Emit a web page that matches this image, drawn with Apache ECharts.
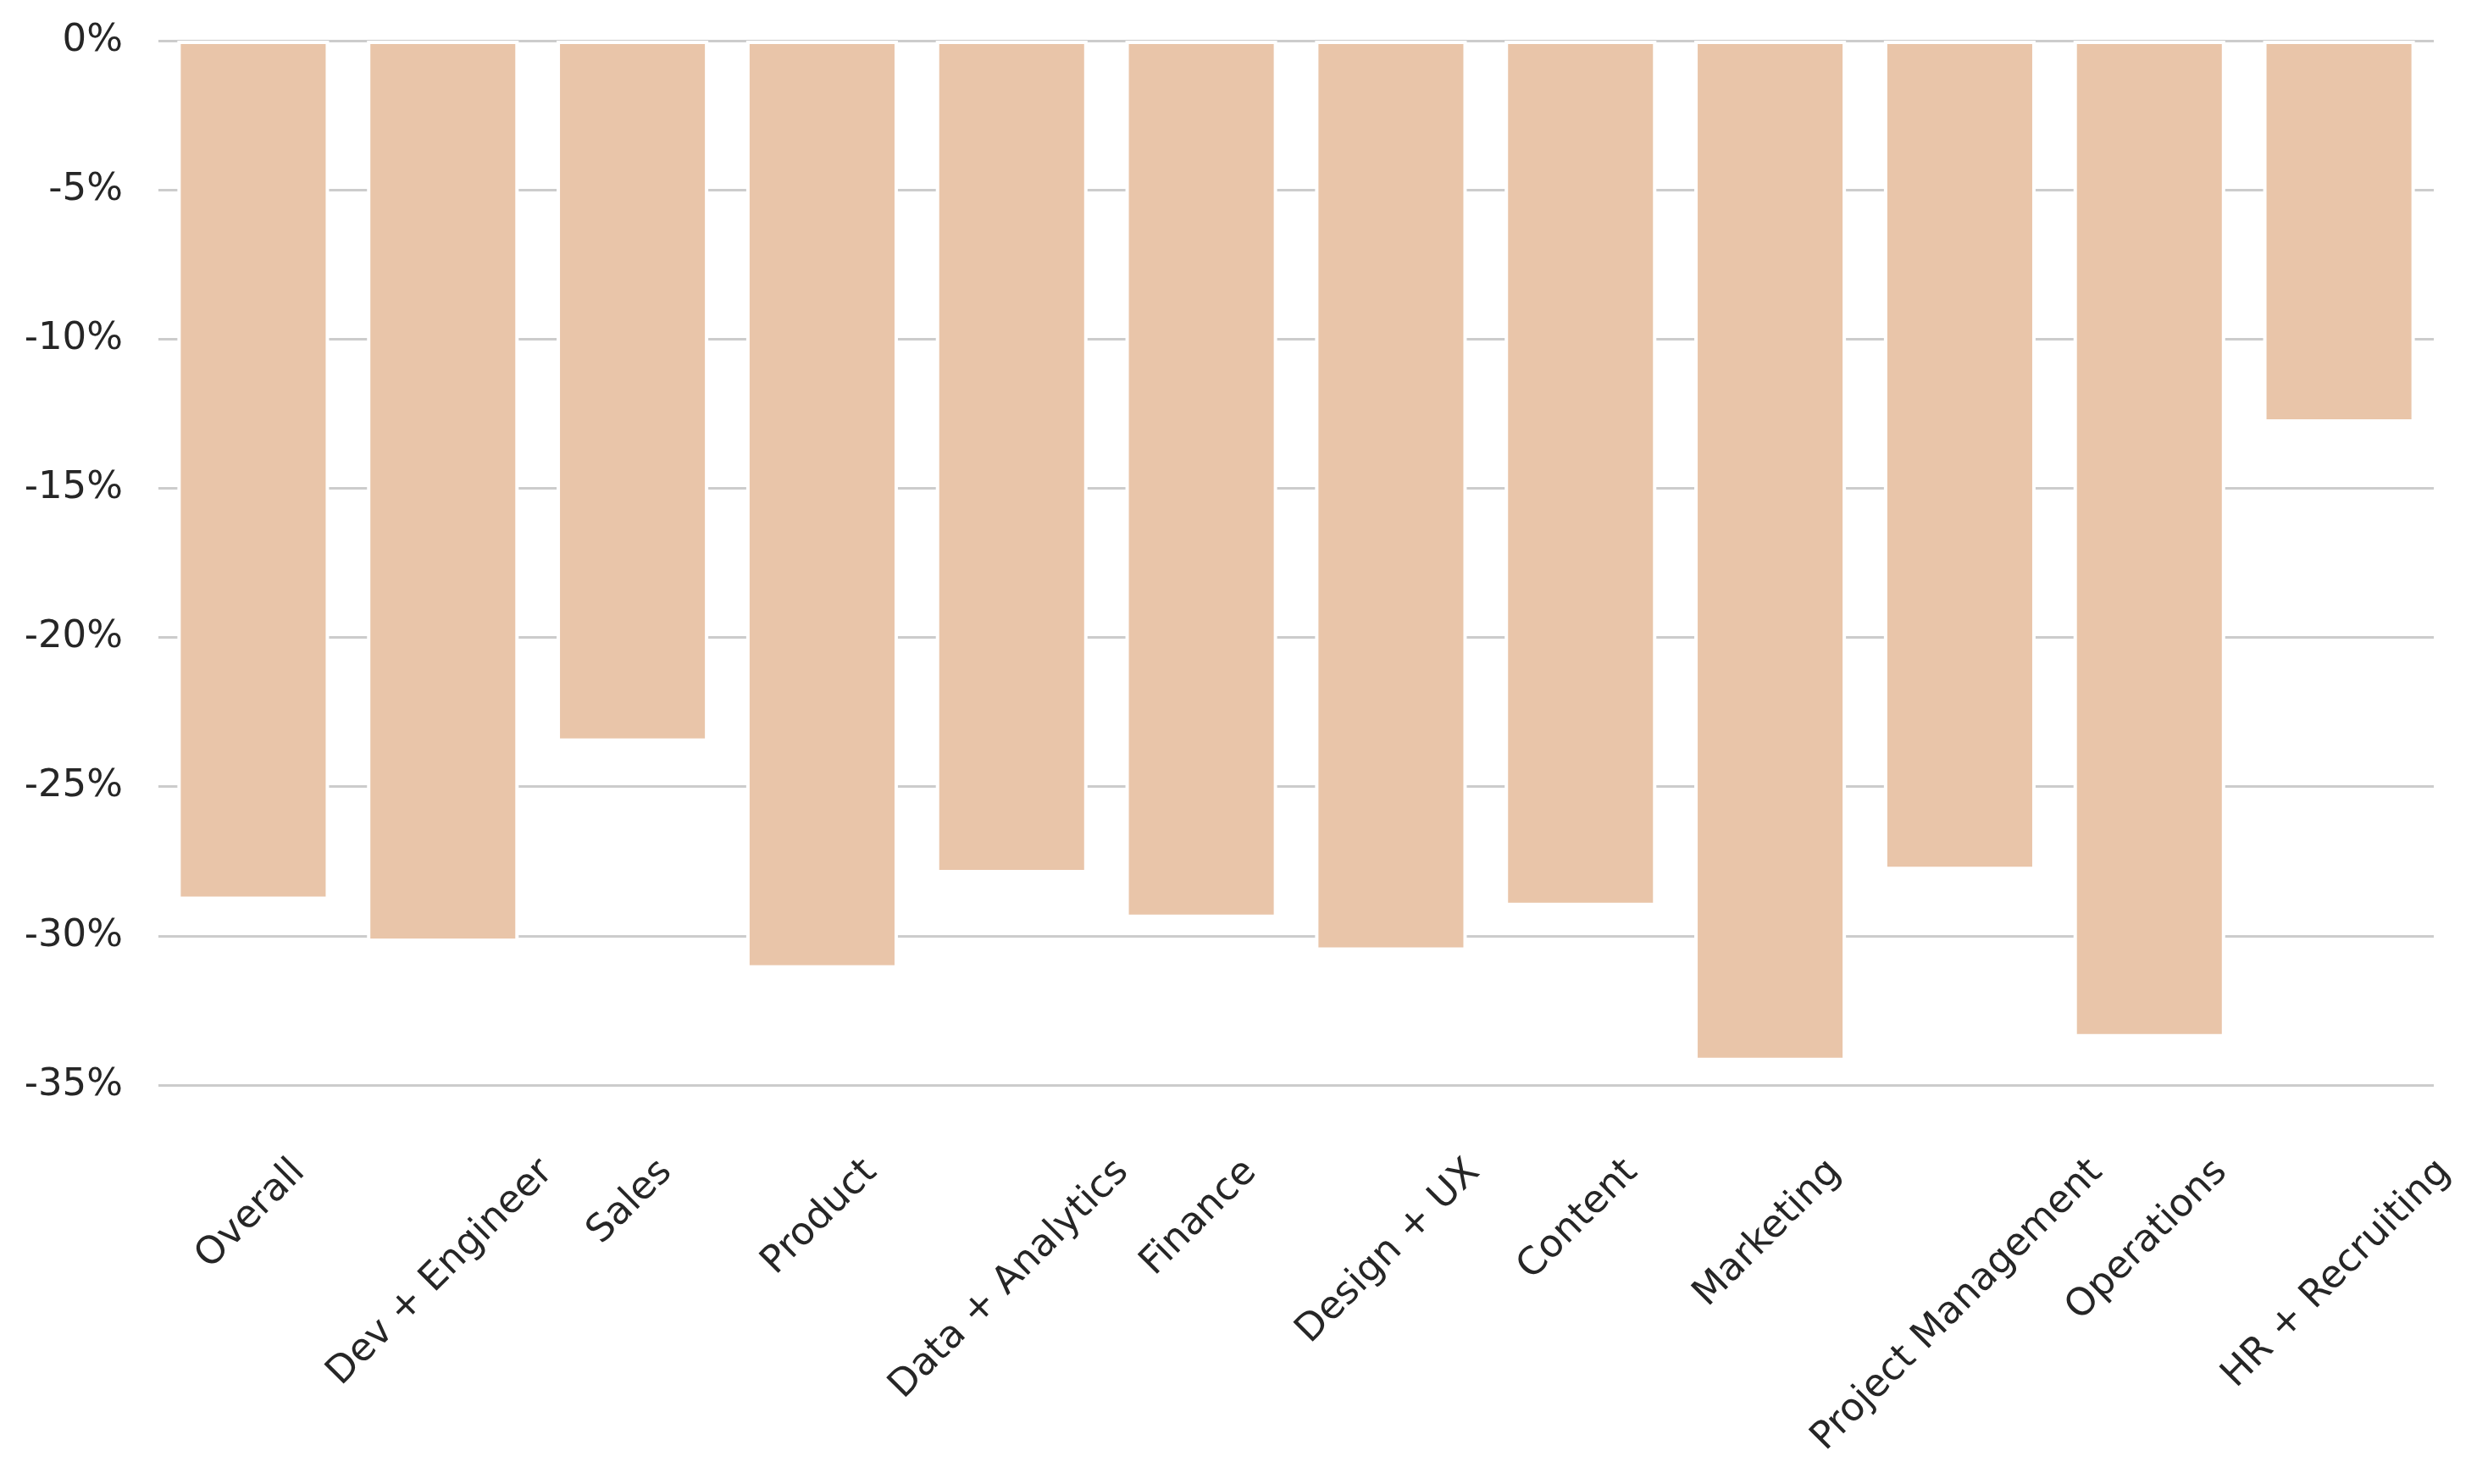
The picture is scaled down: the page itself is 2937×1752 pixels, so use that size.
<!DOCTYPE html>
<html><head><meta charset="utf-8">
<script src="https://cdn.jsdelivr.net/npm/echarts@6/dist/echarts.min.js"></script>
<style>html,body{margin:0;padding:0;background:#fff}#c{width:2937px;height:1752px}</style>
</head><body><div id="c"></div>
<script>
const categories = ['Overall','Dev + Engineer','Sales','Product','Data + Analytics','Finance','Design + UX','Content','Marketing','Project Management','Operations','HR + Recruiting'];
const changePct = [-28.8,-30.2,-23.5,-31.1,-27.9,-29.4,-30.5,-29.0,-34.2,-27.8,-33.4,-12.8];
const yMin = -35, yMax = 0, yStep = 5;

const FONT = 'DejaVu Sans';
const FS = 45;
const cv = document.createElement('canvas').getContext('2d');
cv.font = FS + 'px "' + FONT + '"';
// emulate centre-aligned 45° labels whose rotated box top sits at a fixed distance below the axis
const xData = categories.map(function (c) {
  const L = cv.measureText(c).width;
  const h = FS * 1.17;
  const pr = (L + h) / 2;
  const pt = Math.max(0, (L - h) / 4);
  return { value: c, textStyle: { align: 'center', verticalAlign: 'top', padding: [pt, pr, 0, 0] } };
});

const chart = echarts.init(document.getElementById('c'), null, { renderer: 'canvas' });
chart.setOption({
  animation: false,
  backgroundColor: '#ffffff',
  grid: { left: 187, right: 64, top: 48, bottom: 471, containLabel: false, outerBoundsMode: 'none' },
  xAxis: {
    type: 'category',
    data: xData,
    axisLine: { show: false },
    axisTick: { show: false },
    splitLine: { show: false },
    axisLabel: {
      interval: 0,
      rotate: 45,
      margin: 80,
      fontFamily: FONT,
      fontSize: FS,
      color: '#262626',
      hideOverlap: false
    }
  },
  yAxis: {
    type: 'value',
    min: yMin, max: yMax, interval: yStep,
    axisLine: { show: false },
    axisTick: { show: false },
    splitLine: { show: true, lineStyle: { color: '#cccccc', width: 3 } },
    axisLabel: {
      margin: 42,
      fontFamily: FONT,
      fontSize: FS,
      color: '#262626',
      formatter: function (v) { return v + '%'; }
    }
  },
  series: [{
    type: 'bar',
    data: changePct,
    barCategoryGap: '20%',
    itemStyle: { color: '#E9C5A9', borderColor: '#ffffff', borderWidth: 4 }
  }]
});
</script>
</body></html>
